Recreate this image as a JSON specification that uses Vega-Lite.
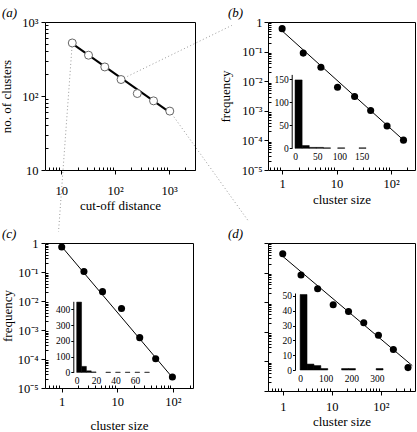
{
  "$schema": "https://vega.github.io/schema/vega-lite/v6.json",
  "autosize": {"type": "none"},
  "padding": {"left": 45, "top": 22, "right": 372, "bottom": 410},
  "config": {
    "font": "Liberation Serif",
    "view": {"stroke": "black", "strokeWidth": 1},
    "axis": {"labelFont": "Liberation Serif", "titleFont": "Liberation Serif", "labelFontSize": 12.5, "titleFontSize": 13, "titleFontWeight": "normal", "tickColor": "black", "domainColor": "black", "labelColor": "black", "titleColor": "black", "grid": false, "labelOverlap": false, "labelFlush": false, "tickWidth": 1},
    "title": {"font": "Liberation Serif", "fontSize": 13, "fontWeight": "normal", "fontStyle": "italic", "anchor": "start", "frame": "group", "color": "black"}
  },
  "concat": [
    {
      "width": 150, "height": 148,
      "title": {"text": "(a)", "dx": -43, "offset": -4},
      "resolve": {"scale": {"x": "independent", "y": "independent"}},
      "layer": [
        {
          "data": {"values": [{"x": 16, "y": 521, "x2": 8.9, "y2": 1.46}, {"x": 128, "y": 167, "x2": 14400, "y2": 899}, {"x": 1024, "y": 62.5, "x2": 30000, "y2": 1.99}]},
          "mark": {"type": "rule", "color": "#999", "strokeDash": [1, 2.5], "strokeWidth": 1},
          "encoding": {
            "x": {"field": "x", "type": "quantitative", "scale": {"type": "log", "domain": [5, 3000], "nice": false}, "axis": null},
            "x2": {"field": "x2"},
            "y": {"field": "y", "type": "quantitative", "scale": {"type": "log", "domain": [10, 1000], "nice": false}, "axis": null},
            "y2": {"field": "y2"}
          }
        },
        {
          "data": {"values": [{"x": 16, "y": 510}, {"x": 1024, "y": 60}]},
          "mark": {"type": "line", "color": "black", "strokeWidth": 2},
          "encoding": {
            "x": {"field": "x", "type": "quantitative", "scale": {"type": "log", "domain": [5, 3000], "nice": false}, "axis": {"orient": "bottom", "values": [6, 7, 8, 9, 20, 30, 40, 50, 60, 70, 80, 90, 200, 300, 400, 500, 600, 700, 800, 900, 2000, 3000], "labels": false, "domain": false, "tickSize": -3, "title": null}},
            "y": {"field": "y", "type": "quantitative", "scale": {"type": "log", "domain": [10, 1000], "nice": false}, "axis": {"orient": "left", "values": [20, 30, 40, 50, 60, 70, 80, 90, 200, 300, 400, 500, 600, 700, 800, 900], "labels": false, "domain": false, "tickSize": -3, "title": null}}
          }
        },
        {
          "data": {"values": [{"x": 16, "y": 521}, {"x": 32, "y": 356}, {"x": 64, "y": 247}, {"x": 128, "y": 167}, {"x": 256, "y": 108}, {"x": 512, "y": 86}, {"x": 1024, "y": 62.5}]},
          "mark": {"type": "point", "shape": "circle", "size": 64, "fill": "white", "stroke": "#666", "strokeWidth": 1, "opacity": 1, "filled": true},
          "encoding": {
            "x": {"field": "x", "type": "quantitative", "scale": {"type": "log", "domain": [5, 3000], "nice": false}, "axis": {"orient": "bottom", "values": [10, 100, 1000], "labelExpr": "datum.value == 1 ? '1' : datum.value == 10 ? '10' : '10' + replace(replace(replace(replace(replace(replace('' + round(log(datum.value) / LN10), '-', '⁻'), '1', '¹'), '2', '²'), '3', '³'), '4', '⁴'), '5', '⁵')", "domain": false, "tickSize": 4, "labelPadding": 10, "title": "cut-off distance", "titlePadding": 3}},
            "y": {"field": "y", "type": "quantitative", "scale": {"type": "log", "domain": [10, 1000], "nice": false}, "axis": {"orient": "left", "values": [10, 100, 1000], "labelExpr": "datum.value == 1 ? '1' : datum.value == 10 ? '10' : '10' + replace(replace(replace(replace(replace(replace('' + round(log(datum.value) / LN10), '-', '⁻'), '1', '¹'), '2', '²'), '3', '³'), '4', '⁴'), '5', '⁵')", "domain": false, "tickSize": 4, "labelPadding": 3, "title": "no. of clusters", "titlePadding": 8}}
          }
        }
      ]
    },
    {
      "width": 147, "height": 148,
      "title": {"text": "(b)", "dx": -40, "offset": -4},
      "resolve": {"scale": {"x": "independent", "y": "independent"}},
      "layer": [
        {
          "data": {"values": [{"lo": 0, "hi": 16, "n": 148}, {"lo": 16, "hi": 32, "n": 6}, {"lo": 32, "hi": 48, "n": 2}, {"lo": 48, "hi": 64, "n": 2}, {"lo": 64, "hi": 80, "n": 1}, {"lo": 96, "hi": 112, "n": 1}, {"lo": 144, "hi": 160, "n": 1}]},
          "mark": {"type": "rect", "color": "black", "stroke": "black", "strokeWidth": 0.5},
          "encoding": {
            "x": {"field": "lo", "type": "quantitative", "scale": {"domain": [-7.5, 170], "range": [23.7, 102.5], "nice": false, "zero": false}, "axis": {"orient": "bottom", "offset": -21.7, "values": [0, 50, 100, 150], "ticks": false, "domain": false, "labelPadding": 3, "labelFontSize": 9.5, "title": null}},
            "x2": {"field": "hi"},
            "y": {"field": "n", "type": "quantitative", "scale": {"domain": [0, 160], "range": [126.3, 52.4], "nice": false}, "axis": {"orient": "left", "offset": -23.7, "values": [0, 50, 100, 150], "tickSize": 2.5, "labelPadding": 1, "domain": true, "labelFontSize": 9.5, "title": null}},
            "y2": {"datum": 0}
          }
        },
        {
          "data": {"values": [{"x": 1, "y": 0.5}, {"x": 185, "y": 0.000088}]},
          "mark": {"type": "line", "color": "black", "strokeWidth": 1},
          "encoding": {
            "x": {"field": "x", "type": "quantitative", "scale": {"type": "log", "domain": [0.55, 275], "nice": false}, "axis": {"orient": "bottom", "values": [0.6, 0.7, 0.8, 0.9, 2, 3, 4, 5, 6, 7, 8, 9, 20, 30, 40, 50, 60, 70, 80, 90, 200], "labels": false, "domain": false, "tickSize": -3, "title": null}},
            "y": {"field": "y", "type": "quantitative", "scale": {"type": "log", "domain": [0.00001, 1], "nice": false}, "axis": {"orient": "left", "values": [0.00002, 0.00003, 0.00004, 0.00005, 0.00006, 0.00007, 0.00008, 0.00009, 0.0002, 0.0003, 0.0004, 0.0005, 0.0006, 0.0007, 0.0008, 0.0009, 0.002, 0.003, 0.004, 0.005, 0.006, 0.007, 0.008, 0.009, 0.02, 0.03, 0.04, 0.05, 0.06, 0.07, 0.08, 0.09, 0.2, 0.3, 0.4, 0.5, 0.6, 0.7, 0.8, 0.9], "labels": false, "domain": false, "tickSize": -3, "title": null}}
          }
        },
        {
          "data": {"values": [{"x": 1, "y": 0.597}, {"x": 2.44, "y": 0.0889}, {"x": 5.15, "y": 0.0294}, {"x": 10.4, "y": 0.00625}, {"x": 21.4, "y": 0.00304}, {"x": 42.2, "y": 0.00103}, {"x": 84.4, "y": 0.000307}, {"x": 169, "y": 0.000102}]},
          "mark": {"type": "circle", "size": 50, "color": "black", "opacity": 1},
          "encoding": {
            "x": {"field": "x", "type": "quantitative", "scale": {"type": "log", "domain": [0.55, 275], "nice": false}, "axis": {"orient": "bottom", "values": [1, 10, 100], "labelExpr": "datum.value == 1 ? '1' : datum.value == 10 ? '10' : '10' + replace(replace(replace(replace(replace(replace('' + round(log(datum.value) / LN10), '-', '⁻'), '1', '¹'), '2', '²'), '3', '³'), '4', '⁴'), '5', '⁵')", "domain": false, "tickSize": 4, "labelPadding": 3, "title": "cluster size", "titlePadding": 4}},
            "y": {"field": "y", "type": "quantitative", "scale": {"type": "log", "domain": [0.00001, 1], "nice": false}, "axis": {"orient": "left", "values": [0.00001, 0.0001, 0.001, 0.01, 0.1, 1], "labelExpr": "datum.value == 1 ? '1' : datum.value == 10 ? '10' : '10' + replace(replace(replace(replace(replace(replace('' + round(log(datum.value) / LN10), '-', '⁻'), '1', '¹'), '2', '²'), '3', '³'), '4', '⁴'), '5', '⁵')", "domain": false, "tickSize": 4, "labelPadding": 2, "title": "frequency", "titlePadding": 9}}
          }
        }
      ]
    },
    {
      "width": 148, "height": 145,
      "title": {"text": "(c)", "dx": -43, "offset": -4},
      "resolve": {"scale": {"x": "independent", "y": "independent"}},
      "layer": [
        {
          "data": {"values": [{"lo": 0, "hi": 5, "n": 445}, {"lo": 5, "hi": 10, "n": 38}, {"lo": 10, "hi": 15, "n": 10}, {"lo": 15, "hi": 20, "n": 3}, {"lo": 30, "hi": 35, "n": 1}, {"lo": 40, "hi": 45, "n": 1}, {"lo": 50, "hi": 55, "n": 1}, {"lo": 60, "hi": 65, "n": 1}, {"lo": 70, "hi": 75, "n": 1}]},
          "mark": {"type": "rect", "color": "black", "stroke": "black", "strokeWidth": 0.5},
          "encoding": {
            "x": {"field": "lo", "type": "quantitative", "scale": {"domain": [-3.5, 80], "range": [28.3, 109.3], "nice": false, "zero": false}, "axis": {"orient": "bottom", "offset": -15.6, "values": [0, 20, 40, 60], "ticks": false, "domain": false, "labelPadding": 3, "labelFontSize": 9.5, "title": null}},
            "x2": {"field": "hi"},
            "y": {"field": "n", "type": "quantitative", "scale": {"domain": [0, 450], "range": [129.4, 58.3], "nice": false}, "axis": {"orient": "left", "offset": -28.3, "values": [0, 100, 200, 300, 400], "tickSize": 2.5, "labelPadding": 1, "domain": true, "labelFontSize": 9.5, "title": null}},
            "y2": {"datum": 0}
          }
        },
        {
          "data": {"values": [{"x": 1, "y": 0.75}, {"x": 100, "y": 0.000022}]},
          "mark": {"type": "line", "color": "black", "strokeWidth": 1},
          "encoding": {
            "x": {"field": "x", "type": "quantitative", "scale": {"type": "log", "domain": [0.5, 230], "nice": false}, "axis": {"orient": "bottom", "values": [0.6, 0.7, 0.8, 0.9, 2, 3, 4, 5, 6, 7, 8, 9, 20, 30, 40, 50, 60, 70, 80, 90, 200], "labels": false, "domain": false, "tickSize": -3, "title": null}},
            "y": {"field": "y", "type": "quantitative", "scale": {"type": "log", "domain": [0.00001, 1], "nice": false}, "axis": {"orient": "left", "values": [0.00002, 0.00003, 0.00004, 0.00005, 0.00006, 0.00007, 0.00008, 0.00009, 0.0002, 0.0003, 0.0004, 0.0005, 0.0006, 0.0007, 0.0008, 0.0009, 0.002, 0.003, 0.004, 0.005, 0.006, 0.007, 0.008, 0.009, 0.02, 0.03, 0.04, 0.05, 0.06, 0.07, 0.08, 0.09, 0.2, 0.3, 0.4, 0.5, 0.6, 0.7, 0.8, 0.9], "labels": false, "domain": false, "tickSize": -3, "title": null}}
          }
        },
        {
          "data": {"values": [{"x": 1, "y": 0.726}, {"x": 2.51, "y": 0.104}, {"x": 5.42, "y": 0.021}, {"x": 11.9, "y": 0.00553}, {"x": 25.3, "y": 0.000545}, {"x": 49, "y": 0.000102}, {"x": 98, "y": 0.0000241}]},
          "mark": {"type": "circle", "size": 50, "color": "black", "opacity": 1},
          "encoding": {
            "x": {"field": "x", "type": "quantitative", "scale": {"type": "log", "domain": [0.5, 230], "nice": false}, "axis": {"orient": "bottom", "values": [1, 10, 100], "labelExpr": "datum.value == 1 ? '1' : datum.value == 10 ? '10' : '10' + replace(replace(replace(replace(replace(replace('' + round(log(datum.value) / LN10), '-', '⁻'), '1', '¹'), '2', '²'), '3', '³'), '4', '⁴'), '5', '⁵')", "domain": false, "tickSize": 4, "labelPadding": 3, "title": "cluster size", "titlePadding": 12}},
            "y": {"field": "y", "type": "quantitative", "scale": {"type": "log", "domain": [0.00001, 1], "nice": false}, "axis": {"orient": "left", "values": [0.00001, 0.0001, 0.001, 0.01, 0.1, 1], "labelExpr": "datum.value == 1 ? '1' : datum.value == 10 ? '10' : '10' + replace(replace(replace(replace(replace(replace('' + round(log(datum.value) / LN10), '-', '⁻'), '1', '¹'), '2', '²'), '3', '³'), '4', '⁴'), '5', '⁵')", "domain": false, "tickSize": 4, "labelPadding": 3, "title": "frequency", "titlePadding": 3}}
          }
        }
      ]
    },
    {
      "width": 147, "height": 148,
      "title": {"text": "(d)", "dx": -40, "offset": 2},
      "resolve": {"scale": {"x": "independent", "y": "independent"}},
      "layer": [
        {
          "data": {"values": [{"lo": 0, "hi": 27, "n": 51}, {"lo": 27, "hi": 54, "n": 4}, {"lo": 54, "hi": 81, "n": 3}, {"lo": 81, "hi": 108, "n": 1}, {"lo": 162, "hi": 189, "n": 1}, {"lo": 189, "hi": 216, "n": 1}, {"lo": 297, "hi": 324, "n": 1}]},
          "mark": {"type": "rect", "color": "black", "stroke": "black", "strokeWidth": 0.5},
          "encoding": {
            "x": {"field": "lo", "type": "quantitative", "scale": {"domain": [-20, 330], "range": [27, 116.6], "nice": false, "zero": false}, "axis": {"orient": "bottom", "offset": -21, "values": [0, 100, 200, 300], "ticks": false, "domain": false, "labelPadding": 3, "labelFontSize": 9.5, "title": null}},
            "x2": {"field": "hi"},
            "y": {"field": "n", "type": "quantitative", "scale": {"domain": [0, 52], "range": [127, 50], "nice": false}, "axis": {"orient": "left", "offset": -27, "values": [0, 10, 20, 30, 40, 50], "tickSize": 2.5, "labelPadding": 1, "domain": true, "labelFontSize": 9.5, "title": null}},
            "y2": {"datum": 0}
          }
        },
        {
          "data": {"values": [{"x": 1, "y": 0.354}, {"x": 440, "y": 0.000072}]},
          "mark": {"type": "line", "color": "black", "strokeWidth": 1},
          "encoding": {
            "x": {"field": "x", "type": "quantitative", "scale": {"type": "log", "domain": [0.5, 500], "nice": false}, "axis": {"orient": "bottom", "values": [0.6, 0.7, 0.8, 0.9, 2, 3, 4, 5, 6, 7, 8, 9, 20, 30, 40, 50, 60, 70, 80, 90, 200, 300, 400], "labels": false, "domain": false, "tickSize": -3, "title": null}},
            "y": {"field": "y", "type": "quantitative", "scale": {"type": "log", "domain": [0.00001, 1], "nice": false}, "axis": {"orient": "left", "values": [0.00002, 0.00003, 0.00004, 0.00005, 0.00006, 0.00007, 0.00008, 0.00009, 0.0002, 0.0003, 0.0004, 0.0005, 0.0006, 0.0007, 0.0008, 0.0009, 0.002, 0.003, 0.004, 0.005, 0.006, 0.007, 0.008, 0.009, 0.02, 0.03, 0.04, 0.05, 0.06, 0.07, 0.08, 0.09, 0.2, 0.3, 0.4, 0.5, 0.6, 0.7, 0.8, 0.9], "labels": false, "domain": false, "tickSize": -3, "title": null}}
          }
        },
        {
          "data": {"values": [{"x": 1, "y": 0.435}, {"x": 2.36, "y": 0.0826}, {"x": 5.15, "y": 0.0284}, {"x": 10.7, "y": 0.00817}, {"x": 22, "y": 0.00486}, {"x": 45, "y": 0.00201}, {"x": 89.7, "y": 0.000767}, {"x": 181, "y": 0.000251}, {"x": 360, "y": 0.0000617}]},
          "mark": {"type": "circle", "size": 50, "color": "black", "opacity": 1},
          "encoding": {
            "x": {"field": "x", "type": "quantitative", "scale": {"type": "log", "domain": [0.5, 500], "nice": false}, "axis": {"orient": "bottom", "values": [1, 10, 100], "labelExpr": "datum.value == 1 ? '1' : datum.value == 10 ? '10' : '10' + replace(replace(replace(replace(replace(replace('' + round(log(datum.value) / LN10), '-', '⁻'), '1', '¹'), '2', '²'), '3', '³'), '4', '⁴'), '5', '⁵')", "domain": false, "tickSize": 4, "labelPadding": 5, "title": "cluster size", "titlePadding": 3}},
            "y": {"field": "y", "type": "quantitative", "scale": {"type": "log", "domain": [0.00001, 1], "nice": false}, "axis": {"orient": "left", "values": [0.00001, 0.0001, 0.001, 0.01, 0.1, 1], "labels": false, "domain": false, "tickSize": 4, "title": null}}
          }
        }
      ]
    }
  ],
  "columns": 2,
  "spacing": {"row": 73, "column": 73},
  "bounds": "flush"
}
